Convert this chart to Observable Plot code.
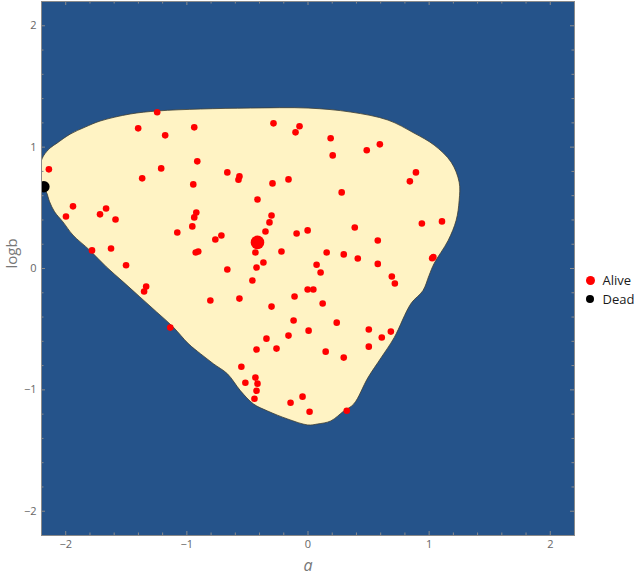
<!DOCTYPE html>
<html><head><meta charset="utf-8">
<script src="https://cdn.jsdelivr.net/npm/d3@7"></script>
<script src="https://cdn.jsdelivr.net/npm/@observablehq/plot@0.6"></script>
<style>
body{margin:0;background:#fff;}
#wrap{position:relative;width:638px;height:579px;font-family:"Open Sans","Noto Sans",sans-serif;}
.lg{position:absolute;left:584px;font-size:13px;color:#1a1a1a;line-height:16px;display:flex;align-items:center;}
.lg span.d{display:inline-block;border-radius:50%;margin-right:8px;}
</style></head><body><div id="wrap"></div>
<script>
// Region boundary (a, logb)
const boundaryA = [-2.2,-2.18,-2.13,-2.072,-1.964,-1.84,-1.716,-1.468,-1.244,-0.888,-0.474,0.0,0.353,0.66,0.875,1.041,1.182,1.248,1.248,1.223,1.157,1.041,0.999,0.949,0.85,0.711,0.603,0.494,0.378,0.296,0.188,0.08,-0.002,-0.168,-0.334,-0.45,-0.557,-0.665,-0.781,-0.888,-0.988,-1.113,-1.250,-1.388,-1.526,-1.664,-1.802,-1.940,-2.023,-2.092,-2.133,-2.161,-2.2,-2.2];
const boundaryLogB = [0.893,0.934,0.992,1.033,1.107,1.165,1.215,1.273,1.298,1.314,1.322,1.322,1.289,1.223,1.116,1.017,0.876,0.711,0.562,0.397,0.231,0.041,-0.058,-0.182,-0.289,-0.57,-0.736,-0.901,-1.116,-1.174,-1.256,-1.281,-1.289,-1.24,-1.174,-1.116,-1.008,-0.868,-0.785,-0.702,-0.619,-0.482,-0.358,-0.234,-0.110,0.013,0.151,0.275,0.384,0.467,0.550,0.632,0.68,0.893];

// Alive points
const aliveA = [-1.245,-1.402,-1.179,-2.139,-1.212,-1.369,-1.940,-1.998,-1.667,-1.717,-1.589,-1.079,-1.783,-1.626,-1.502,
-0.939,-0.285,-0.070,-0.103,-0.914,-0.666,-0.566,-0.574,-0.161,-0.293,-0.947,-0.417,-0.922,-0.939,-0.301,-0.318,-0.955,-0.351,-0.715,-0.765,-0.094,-0.003,-0.927,-0.906,-0.434,-0.219,-0.368,
0.187,0.593,0.485,0.204,0.891,0.841,0.278,0.386,0.940,1.106,0.576,0.154,0.295,0.411,1.025,1.035,0.576,0.071,
-1.336,-1.353,-1.137,-0.666,-0.425,-0.459,-0.806,-0.566,-0.003,0.044,-0.111,-0.301,-0.119,0.005,-0.161,-0.343,-0.260,-0.425,-0.550,-0.434,-0.517,-0.417,-0.425,-0.442,-0.045,-0.144,0.013,
0.104,0.692,0.717,0.121,0.237,0.502,0.684,0.609,0.502,0.146,0.295,0.320];
const aliveLogB = [1.287,1.155,1.097,0.817,0.825,0.743,0.512,0.429,0.495,0.446,0.404,0.297,0.149,0.165,0.027,
1.163,1.196,1.172,1.122,0.883,0.792,0.759,0.731,0.734,0.701,0.693,0.569,0.462,0.421,0.437,0.380,0.347,0.305,0.272,0.239,0.289,0.314,0.132,0.140,0.132,0.140,0.050,
1.073,1.023,0.974,0.932,0.792,0.718,0.627,0.338,0.371,0.388,0.231,0.132,0.116,0.083,0.085,0.095,0.038,0.031,
-0.149,-0.190,-0.487,-0.008,0.008,-0.099,-0.264,-0.248,-0.173,-0.173,-0.231,-0.314,-0.429,-0.512,-0.553,-0.578,-0.660,-0.668,-0.809,-0.899,-0.941,-0.949,-1.007,-1.073,-1.056,-1.106,-1.180,
-0.033,-0.066,-0.124,-0.289,-0.446,-0.503,-0.520,-0.569,-0.644,-0.685,-0.734,-1.172];

// Highlighted points
const centerA = [-0.417], centerLogB = [0.215];
const deadA = [-2.18], deadLogB = [0.673];

// Ticks
const majorTicks = [-2,-1,0,1,2];
const minorTicks = [-1.8,-1.6,-1.4,-1.2,-0.8,-0.6,-0.4,-0.2,0.2,0.4,0.6,0.8,1.2,1.4,1.6,1.8];
const legendLabels = ["Alive","Dead"];
const legendColors = ["#ff0000","#000000"];

const boundary = boundaryA.map((a,i)=>({a, b: boundaryLogB[i]}));
const alive = aliveA.map((a,i)=>({a, b: aliveLogB[i]}));
const center = centerA.map((a,i)=>({a, b: centerLogB[i]}));
const dead = deadA.map((a,i)=>({a, b: deadLogB[i]}));

const W = 638, H = 579, mL = 41, mR = 64, mT = 1, mB = 44;
const fw = W - mL - mR, fh = H - mT - mB;
const blue = "#25538a", cream = "#fff3c4", gray = "#8a8a8a";
const tickFont = 11;
const fmt = d => d < 0 ? "\u2212" + Math.abs(d) : String(d);

const chart = Plot.plot({
  width: W, height: H,
  marginLeft: mL, marginRight: mR, marginTop: mT, marginBottom: mB,
  style: {fontFamily: "'Open Sans','Noto Sans',sans-serif", background: "transparent"},
  x: {domain: [-2.2, 2.2]},
  y: {domain: [-2.2, 2.2]},
  marks: [
    Plot.frame({fill: blue}),
    Plot.line(boundary, {x: "a", y: "b", fill: cream, stroke: "#3d3d33", strokeWidth: 0.8, curve: "catmull-rom", clip: true}),
    Plot.dot(alive, {x: "a", y: "b", r: 3.3, fill: "#ff0000", stroke: null}),
    Plot.dot(center, {x: "a", y: "b", r: 6.8, fill: "#ff0000", stroke: null}),
    Plot.dot(dead, {x: "a", y: "b", r: 5.7, fill: "#000000", stroke: null, clip: true}),
    // ticks (inward)
    Plot.ruleX(majorTicks, {x: d=>d, insetTop: fh-4, stroke: gray}),
    Plot.ruleX(majorTicks, {x: d=>d, insetBottom: fh-4, stroke: gray}),
    Plot.ruleX(minorTicks, {x: d=>d, insetTop: fh-2.5, stroke: gray}),
    Plot.ruleX(minorTicks, {x: d=>d, insetBottom: fh-2.5, stroke: gray}),
    Plot.ruleY(majorTicks, {y: d=>d, insetRight: fw-4, stroke: gray}),
    Plot.ruleY(majorTicks, {y: d=>d, insetLeft: fw-4, stroke: gray}),
    Plot.ruleY(minorTicks, {y: d=>d, insetRight: fw-2.5, stroke: gray}),
    Plot.ruleY(minorTicks, {y: d=>d, insetLeft: fw-2.5, stroke: gray}),
    Plot.frame({stroke: gray, strokeWidth: 1}),
    Plot.axisX({ticks: majorTicks, tickFormat: fmt, tickSize: 0, tickPadding: 5, label: null, fontSize: tickFont, fill: "#666"}),
    Plot.axisY({ticks: majorTicks, tickFormat: fmt, tickSize: 0, tickPadding: 5, label: null, fontSize: tickFont, fill: "#666"}),
    Plot.text(["a"], {frameAnchor: "bottom", dy: 30, lineAnchor: "middle", text: d=>d, fontStyle: "italic", fontSize: 16, fill: "#777"}),
    Plot.text(["logb"], {frameAnchor: "left", dx: -29, rotate: -90, text: d=>d, fontSize: 15, fill: "#777"})
  ]
});
const wrap = document.getElementById("wrap");
chart.style.position = "absolute"; chart.style.left = "0px"; chart.style.top = "0px";
wrap.appendChild(chart);

const legendTops = [272, 291];
const dotSizes = [9, 8];
legendLabels.forEach((lab, i) => {
  const row = document.createElement("div");
  row.className = "lg";
  row.style.top = legendTops[i] + "px";
  const d = document.createElement("span");
  d.className = "d";
  d.style.width = dotSizes[i] + "px"; d.style.height = dotSizes[i] + "px";
  d.style.background = legendColors[i];
  d.style.marginLeft = ((9 - dotSizes[i]) / 2 + 1.5) + "px";
  d.style.marginRight = (8 + (9 - dotSizes[i]) / 2) + "px";
  row.appendChild(d);
  const t = document.createElement("span");
  t.textContent = lab;
  row.appendChild(t);
  wrap.appendChild(row);
});
</script>
</body></html>
